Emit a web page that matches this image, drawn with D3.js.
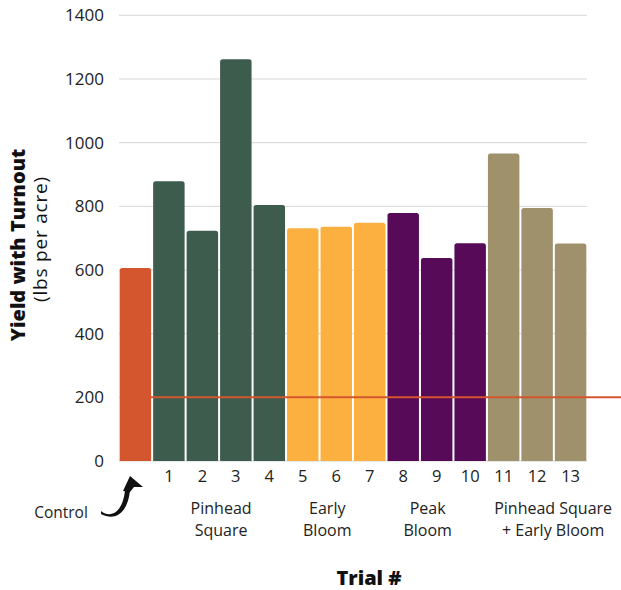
<!DOCTYPE html>
<html>
<head>
<meta charset="utf-8">
<script src="https://cdn.jsdelivr.net/npm/d3@7"></script>
<style>
  html, body { margin: 0; padding: 0; background: #fff; }
  svg { display: block; font-family: "Open Sans", "DejaVu Sans", sans-serif; }
</style>
</head>
<body>
<svg id="chart" width="621" height="590"></svg>
<script>
// Trials (control first), yields and treatment groups
const trials = ["Control", "1", "2", "3", "4", "5", "6", "7", "8", "9", "10", "11", "12", "13"];
const yields = [606, 879, 723, 1262, 804, 731, 736, 748, 779, 638, 684, 966, 795, 683];
const trialGroup = ["control", "ps", "ps", "ps", "ps", "eb", "eb", "eb", "pb", "pb", "pb", "pseb", "pseb", "pseb"];
const groupKeys = ["control", "ps", "eb", "pb", "pseb"];
const groupColors = ["#D4562E", "#3E5C4E", "#FBB040", "#560A58", "#9E916C"];
const groupLabels = [null, ["Pinhead", "Square"], ["Early", "Bloom"], ["Peak", "Bloom"], ["Pinhead Square", "+ Early Bloom"]];
const yTicks = [0, 200, 400, 600, 800, 1000, 1200, 1400];
const referenceYield = 200;

const svg = d3.select("#chart");
const plotLeft = 119, plotRight = 587, plotTop = 15.3, plotBottom = 461;

const x = d3.scaleBand().domain(trials).range([plotLeft, plotRight]).paddingInner(0.06).paddingOuter(0.02);
const y = d3.scaleLinear().domain([0, 1400]).range([plotBottom, plotTop]);
const color = d3.scaleOrdinal().domain(groupKeys).range(groupColors);

// horizontal grid
svg.append("g")
  .selectAll("line")
  .data(yTicks)
  .join("line")
  .attr("x1", plotLeft).attr("x2", plotRight)
  .attr("y1", d => y(d)).attr("y2", d => y(d))
  .attr("stroke", "#d6d6d6").attr("stroke-width", 1);

// y axis labels
const yAxis = d3.axisLeft(y).tickValues(yTicks).tickFormat(d3.format("d")).tickSize(0).tickPadding(15);
const yg = svg.append("g").attr("transform", `translate(${plotLeft},0)`).call(yAxis);
yg.select(".domain").remove();
yg.selectAll("text").attr("font-size", 17).attr("fill", "#222").attr("font-family", "Open Sans");

// bars
svg.append("g")
  .selectAll("path")
  .data(trials.map((t, i) => ({ t, v: yields[i], g: trialGroup[i] })))
  .join("path")
  .attr("d", d => {
    const x0 = x(d.t), w = x.bandwidth(), y0 = y(d.v), r = 2.5;
    return `M${x0},${plotBottom}V${y0 + r}Q${x0},${y0} ${x0 + r},${y0}H${x0 + w - r}Q${x0 + w},${y0} ${x0 + w},${y0 + r}V${plotBottom}Z`;
  })
  .attr("fill", d => color(d.g));

// reference line at 200
svg.append("line")
  .attr("x1", x("1") - 3).attr("x2", 621)
  .attr("y1", y(referenceYield)).attr("y2", y(referenceYield))
  .attr("stroke", "#D4562E").attr("stroke-width", 2);

// trial numbers
const xAxis = d3.axisBottom(x).tickValues(trials.slice(1)).tickSize(0).tickPadding(9);
const xg = svg.append("g").attr("transform", `translate(0,${plotBottom})`).call(xAxis);
xg.select(".domain").remove();
xg.selectAll("text").attr("font-size", 16.5).attr("fill", "#222").attr("font-family", "Open Sans");

// group labels under trial numbers
const labelShift = { ps: 2, eb: -9, pb: -9, pseb: 16 };
groupKeys.forEach((g, gi) => {
  if (!groupLabels[gi]) return;
  const members = trials.filter((t, i) => trialGroup[i] === g);
  const cx = (x(members[0]) + x(members[members.length - 1]) + x.bandwidth()) / 2 + (labelShift[g] || 0);
  const txt = svg.append("text")
    .attr("x", cx).attr("y", 514)
    .attr("text-anchor", "middle")
    .attr("font-size", 16).attr("fill", "#222");
  groupLabels[gi].forEach((line, li) => {
    txt.append("tspan").attr("x", cx).attr("dy", li === 0 ? 0 : 22).text(line);
  });
});

// control callout with curved arrow
svg.append("text")
  .attr("x", 61).attr("y", 518)
  .attr("text-anchor", "middle")
  .attr("font-size", 15.5).attr("fill", "#222")
  .text("Control");

svg.append("path")
  .attr("d", "M101,511 C111,519 123,512 125,490 L130,490 C128,512 116,522 101,514 Z")
  .attr("fill", "#111");
svg.append("path")
  .attr("d", "M130,476 L143,487 L134,487 L130,492 L123,491 Z")
  .attr("fill", "#111");

// axis titles
const yTitle = svg.append("g").attr("fill", "#111").attr("text-anchor", "middle");
yTitle.append("text")
  .attr("transform", "translate(25,245) rotate(-90)")
  .attr("font-size", 20).attr("font-weight", 800)
  .text("Yield with Turnout");
yTitle.append("text")
  .attr("transform", "translate(47,239) rotate(-90)")
  .attr("font-size", 19).attr("font-weight", 400).attr("letter-spacing", 0.8)
  .text("(lbs per acre)");

svg.append("text")
  .attr("x", 369).attr("y", 585)
  .attr("text-anchor", "middle")
  .attr("font-size", 20).attr("font-weight", 800).attr("fill", "#111")
  .text("Trial #");
</script>
</body>
</html>
